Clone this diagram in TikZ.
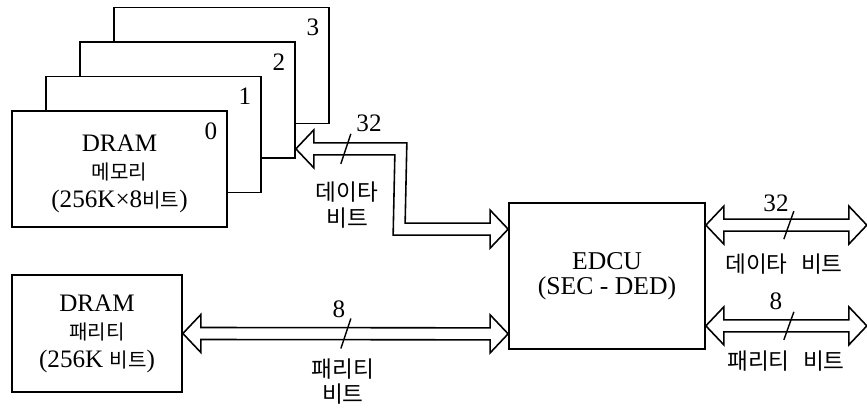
\documentclass[tikz,border=0pt]{standalone}
\usepackage{fontspec}
\setmainfont{Liberation Serif}
\newfontfamily\krs[Scale=0.8]{Noto Sans CJK KR}
\newfontfamily\krb[Scale=0.9]{Noto Sans CJK KR}
\usetikzlibrary{calc}

\tikzset{
	membox/.style={draw, fill=white, line width=1pt, minimum width=4.3cm, minimum height=2.32cm, inner sep=0pt},
	bus/.style={draw, fill=white, line width=0.9pt, line join=miter},
	slash/.style={line width=0.8pt},
	krlabel/.style={align=center, font=\fontsize{14.3}{14.7}\selectfont\krb},
}

% fat double-headed bus arrow between two points on one level
\newcommand{\busarrow}[2]{%
	\draw[bus] (#1) -- ++(18,-19) -- ++(0,13) -- ($(#2)+(-18,-6)$) -- ++(0,-13)
		-- (#2) -- ++(-18,19) -- ++(0,-13) -- ($(#1)+(18,6)$) -- ++(0,13) -- cycle;}

\begin{document}
\begin{tikzpicture}[x=0.02cm, y=-0.02cm, font=\fontsize{14.3}{16}\selectfont]
	\useasboundingbox (0,0) rectangle (867,408);

	% DRAM banks 3..0, back to front
	\foreach \i in {3,2,1,0} {
		\node[membox] (mem\i) at ({119.5+34*\i},{169-34.5*\i}) {};
		\node (num\i) at ($(mem\i.north east)+(-17,21)$) {\i};
	}
	\node[align=center] (memtxt) at ($(mem0)+(0,5)$) {DRAM\\{\krs 메모리}\\(256K×8{\krs 비트})};

	% parity DRAM
	\node[membox, minimum width=3.4cm, minimum height=2.34cm] (dramp) at (97,333.5) {};
	\node[align=center] (dramptxt) at (dramp) {DRAM\\{\krs 패리티}\\(256K {\krs 비트})};

	% EDCU
	\node[membox, minimum width=3.92cm, minimum height=2.92cm, align=center,
		font=\fontsize{14.6}{14}\selectfont] (edcu) at (607,276) {EDCU\\(SEC - DED)};

	% bus ends
	\coordinate (memport) at ($(mem2.south east)+(0,-10)$);
	\coordinate (edcuA) at ($(edcu.north west)+(0,27)$);
	\coordinate (edcuB) at ($(edcu.south west)+(0,-16)$);
	\coordinate (edcuC) at ($(edcu.north east)+(0,23)$);
	\coordinate (edcuD) at ($(edcu.south east)+(0,-24)$);
	\coordinate (outC) at ($(edcuC)+(161,0)$);
	\coordinate (outD) at ($(edcuD)+(161,0)$);

	% data bus, bent
	\draw[bus] (memport) -- ++(18,-19) -- ++(0,13) -- ($(memport)+(111,-6)$)
		-- ($(edcuA)+(-103,-6)$) -- ($(edcuA)+(-18,-6)$) -- ++(0,-13) -- (edcuA)
		-- ++(-18,19) -- ++(0,-13) -- ($(edcuA)+(-115,6)$) -- ($(memport)+(99,6)$)
		-- ($(memport)+(18,6)$) -- ++(0,13) -- cycle;

	\busarrow{dramp.east}{edcuB}
	\busarrow{edcuC}{outC}
	\busarrow{edcuD}{outD}

	% width marks
	\draw[slash] ($(memport)+(55,-15)$) -- ($(memport)+(45,15)$);
	\draw[slash] ($(dramp.east)+(168,-15)$) -- ($(dramp.east)+(158,15)$);
	\draw[slash] ($(edcuC)+(88,-14)$) -- ($(edcuC)+(78,14)$);
	\draw[slash] ($(edcuD)+(88,-14)$) -- ($(edcuD)+(78,14)$);

	% labels
	\node (n32a) at (369,123) {32};
	\node[krlabel] (lbla) at (347,205) {데이타\\비트};
	\node (n8a) at (339,309) {8};
	\node[krlabel] (lblb) at (343,381.5) {패리티\\비트};
	\node (n32b) at (776,203) {32};
	\node[krlabel] (lblc) at (784,264) {데이타\hspace{0.6em}비트};
	\node (n8b) at (776,301) {8};
	\node[krlabel] (lbld) at (786,361) {패리티\hspace{0.6em}비트};
\end{tikzpicture}
\end{document}
